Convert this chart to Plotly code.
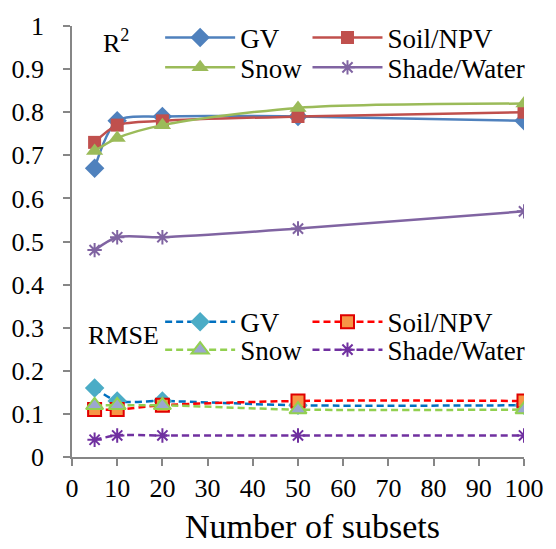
import plotly.graph_objects as go

subsets = [5, 10, 20, 50, 100]

r2_gv = [0.67, 0.78, 0.79, 0.79, 0.78]
r2_soil = [0.73, 0.77, 0.78, 0.79, 0.80]
r2_snow = [0.71, 0.74, 0.77, 0.81, 0.82]
r2_shade = [0.48, 0.51, 0.51, 0.53, 0.57]

rmse_gv = [0.16, 0.13, 0.13, 0.12, 0.12]
rmse_soil = [0.11, 0.11, 0.12, 0.13, 0.13]
rmse_snow = [0.12, 0.12, 0.12, 0.11, 0.11]
rmse_shade = [0.04, 0.05, 0.05, 0.05, 0.05]

x_ticks = list(range(0, 101, 10))
y_ticks = [round(i * 0.1, 1) for i in range(11)]

FONT = "Liberation Serif, Times New Roman, serif"
DASH = "7px,4px"

fig = go.Figure()

def add(y, name, color, symbol, legend, dash="solid", fill=None, mline=None, size=13, mlw=0):
    fig.add_trace(go.Scatter(
        x=subsets, y=y, name=name, mode="lines+markers",
        line=dict(color=color, width=2.5, dash=dash, shape="spline", smoothing=0.8),
        marker=dict(symbol=symbol, size=size, color=fill or color,
                    line=dict(color=mline or color, width=mlw)),
        legend=legend,
    ))

add(r2_gv, "GV", "#4F81BD", "diamond", "legend", size=15)
add(r2_soil, "Soil/NPV", "#C0504D", "square", "legend2", size=13)
add(r2_snow, "Snow", "#9BBB59", "triangle-up", "legend3", size=15)
add(r2_shade, "Shade/Water", "#8064A2", "asterisk-open", "legend4", size=12, mlw=2)

add(rmse_gv, "GV", "#0070C0", "diamond", "legend5", dash=DASH, fill="#4BACC6", size=15)
add(rmse_soil, "Soil/NPV", "#FF0000", "square", "legend6", dash=DASH, fill="#F79646", mline="#E00000", size=13, mlw=2)
add(rmse_snow, "Snow", "#92D050", "triangle-up", "legend7", dash=DASH, fill="#9BA7CF", mline="#92D050", size=15, mlw=2)
add(rmse_shade, "Shade/Water", "#7030A0", "asterisk-open", "legend8", dash=DASH, size=12, mlw=2)

axis_common = dict(
    showgrid=False, zeroline=False, showline=True, linecolor="#868686", linewidth=1.5,
    ticks="outside", tickcolor="#868686", ticklen=7, tickwidth=1.5,
    tickfont=dict(family=FONT, size=26, color="black"),
)

fig.update_xaxes(range=[0, 100], tickvals=x_ticks, ticktext=[str(v) for v in x_ticks],
                 **axis_common)
fig.update_yaxes(range=[0, 1], tickvals=y_ticks, ticktext=[("%g" % v) for v in y_ticks],
                 ticklabelstandoff=14, **axis_common)

def leg(x, y):
    return dict(x=x, y=y, orientation="v", font=dict(family=FONT, size=27, color="black"),
                bgcolor="rgba(0,0,0,0)", xanchor="left", yanchor="middle",
                itemwidth=70, itemsizing="trace")

col1, col2 = 0.195, 0.521
fig.update_layout(
    legend=leg(col1, 0.972), legend2=leg(col2, 0.972),
    legend3=leg(col1, 0.903), legend4=leg(col2, 0.903),
    legend5=leg(col1, 0.313), legend6=leg(col2, 0.313),
    legend7=leg(col1, 0.248), legend8=leg(col2, 0.248),
    annotations=[
        dict(text="R<sup>2</sup>", x=0.065, y=0.963, xref="paper", yref="paper", showarrow=False,
             xanchor="left", yanchor="middle", font=dict(family=FONT, size=26, color="black")),
        dict(text="RMSE", x=0.03, y=0.281, xref="paper", yref="paper", showarrow=False,
             xanchor="left", yanchor="middle", font=dict(family=FONT, size=26, color="black")),
        dict(text="Number of subsets", x=0.532, y=-0.209, xref="paper", yref="paper", showarrow=False,
             xanchor="center", yanchor="bottom", font=dict(family=FONT, size=34, color="black")),
    ],
    width=556, height=549,
    margin=dict(l=68, r=24, t=26, b=92),
    paper_bgcolor="white", plot_bgcolor="white",
    showlegend=True,
)

fig.write_html("out.html")
